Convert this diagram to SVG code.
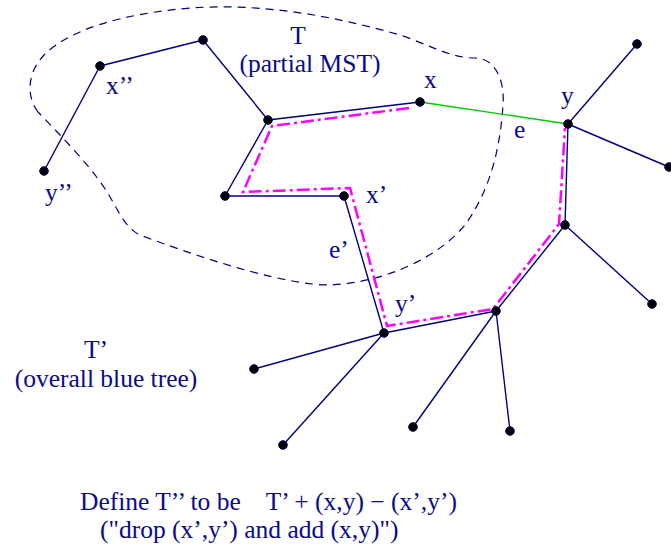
<svg xmlns="http://www.w3.org/2000/svg" width="671" height="549" viewBox="0 0 671 549">
<style>
.e{stroke:#000080;stroke-width:1.4;fill:none}
.g{stroke:#00cc00;stroke-width:1.4;fill:none}
.p{stroke:#ff00ff;stroke-width:2.5;fill:none;stroke-dasharray:13 4 3 4}
.b{stroke:#000080;stroke-width:1.2;fill:none;stroke-dasharray:8 6}
.n{fill:#000000;stroke:#000060;stroke-width:1}
text{font-family:"Liberation Serif","Times New Roman",serif;font-size:25.5px;fill:#0a0a8c}
</style>
<rect width="671" height="549" fill="#ffffff"/>
<path id="boundary" class="b" d="M38,112 C26,96 27,72 45,54 C70,30 120,14 190,8 C260,3 330,15 400,35 C430,45 450,58 475,58 C495,58 505,80 503,105 C500,150 490,190 465,225 C440,255 390,282 330,285 C290,285 220,265 140,235 C125,228 118,210 110,197 C95,170 60,135 38,112 Z"/>
<g id="connectors">
<line class="e" x1="44" y1="171" x2="100" y2="66"/>
<line class="e" x1="100" y1="66" x2="203" y2="40"/>
<line class="e" x1="203" y1="40" x2="268" y2="120"/>
<line class="e" x1="268" y1="120" x2="420" y2="102"/>
<line class="e" x1="268" y1="120" x2="225" y2="196"/>
<line class="e" x1="225" y1="196" x2="344" y2="196"/>
<line class="e" x1="344" y1="196" x2="384" y2="333"/>
<line class="g" x1="420" y1="102" x2="568" y2="124"/>
<line class="e" x1="568" y1="124" x2="637" y2="44"/>
<line class="e" x1="568" y1="124" x2="669" y2="167"/>
<line class="e" x1="568" y1="124" x2="565" y2="225"/>
<line class="e" x1="565" y1="225" x2="652" y2="304"/>
<line class="e" x1="565" y1="225" x2="496" y2="311"/>
<line class="e" x1="496" y1="311" x2="384" y2="333"/>
<line class="e" x1="496" y1="311" x2="413" y2="427"/>
<line class="e" x1="496" y1="311" x2="510" y2="431"/>
<line class="e" x1="384" y1="333" x2="254" y2="369"/>
<line class="e" x1="384" y1="333" x2="283" y2="445"/>
<path id="cycle" class="p" d="M409,108 L272,126 L243,192 L350,188 L387,326 L493,309 L559,224 L565,128"/>
</g>
<g id="n-ypp"><circle class="n" cx="44" cy="171" r="4.3"/></g>
<g id="n-xpp"><circle class="n" cx="100" cy="66" r="4.3"/></g>
<g id="n-top"><circle class="n" cx="203" cy="40" r="4.3"/></g>
<g id="n-a"><circle class="n" cx="268" cy="120" r="4.3"/></g>
<g id="n-b"><circle class="n" cx="225" cy="196" r="4.3"/></g>
<g id="n-x"><circle class="n" cx="420" cy="102" r="4.3"/></g>
<g id="n-xp"><circle class="n" cx="344" cy="196" r="4.3"/></g>
<g id="n-y"><circle class="n" cx="568" cy="124" r="4.3"/></g>
<g id="n-tr"><circle class="n" cx="637" cy="44" r="4.3"/></g>
<g id="n-r"><circle class="n" cx="669" cy="167" r="4.3"/></g>
<g id="n-c"><circle class="n" cx="565" cy="225" r="4.3"/></g>
<g id="n-rl"><circle class="n" cx="652" cy="304" r="4.3"/></g>
<g id="n-d"><circle class="n" cx="496" cy="311" r="4.3"/></g>
<g id="n-yp"><circle class="n" cx="384" cy="333" r="4.3"/></g>
<g id="n-l1"><circle class="n" cx="413" cy="427" r="4.3"/></g>
<g id="n-l2"><circle class="n" cx="510" cy="431" r="4.3"/></g>
<g id="n-l3"><circle class="n" cx="254" cy="369" r="4.3"/></g>
<g id="n-l4"><circle class="n" cx="283" cy="445" r="4.3"/></g>
<g id="labels">
<text x="298" y="44" text-anchor="middle">T</text>
<text x="310" y="72" text-anchor="middle">(partial MST)</text>
<text x="106" y="94">x’’</text>
<text x="45" y="201">y’’</text>
<text x="424" y="88">x</text>
<text x="561" y="104">y</text>
<text x="514" y="138">e</text>
<text x="366" y="203">x’</text>
<text x="329" y="258">e’</text>
<text x="395" y="312">y’</text>
<text x="96" y="358" text-anchor="middle">T’</text>
<text x="106" y="387" text-anchor="middle">(overall blue tree)</text>
<text x="80" y="510" xml:space="preserve">Define T’’ to be    T’ + (x,y) − (x’,y’)</text>
<text x="100" y="538">("drop (x’,y’) and add (x,y)")</text>
</g>
</svg>
